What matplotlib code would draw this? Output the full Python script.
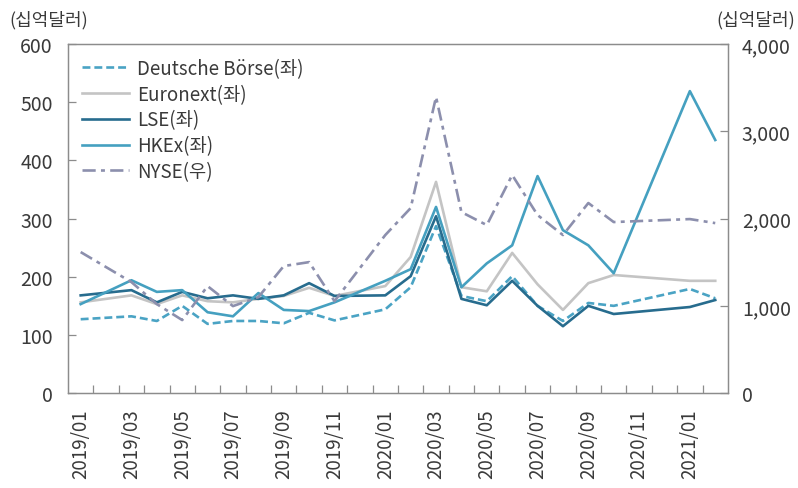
import numpy as np
import pandas as pd
import matplotlib
matplotlib.use("Agg")
import matplotlib.pyplot as plt
from matplotlib.ticker import FuncFormatter

plt.rcParams['font.family'] = ['Noto Sans CJK KR', 'DejaVu Sans']
plt.rcParams['font.weight'] = 'light'
plt.rcParams['axes.unicode_minus'] = False

# monthly categories 2019/01 ~ 2021/02, blank months are None
months = [p.strftime('%Y/%m') for p in pd.period_range('2019-01', '2021-02', freq='M')]

deutsche = [127, None, 132, 124, 150, 119, 124, 124, 120, 138, 125, None,
            144, 182, 287, 167, 158, 201, 150, 124, 155, 150, None, None, 179, 163]
euronext = [156, None, 168, 153, 168, 158, 156, 162, 167, 181, 167, None,
            184, 234, 363, 182, 175, 241, 187, 143, 189, 203, None, None, 193, 193]
lse = [168, None, 177, 156, 174, 163, 168, 162, 168, 189, 167, None,
       168, 201, 304, 162, 151, 193, 150, 115, 150, 136, None, None, 148, 160]
hkex = [153, None, 194, 174, 177, 139, 132, 172, 143, 141, 156, None,
        193, 213, 320, 182, 223, 254, 373, 280, 254, 206, None, None, 519, 435]
nyse = [1616, None, 1272, 1020, 837, 1226, 997, 1100, 1456, 1501, 1054, None,
        1811, 2120, 3393, 2074, 1925, 2499, 2040, 1811, 2178, 1960, None, None, 1994, 1948]

left_series = [
    ('Deutsche Börse(좌)', deutsche, '#4aa3c4', (0, (3, 1.5))),
    ('Euronext(좌)', euronext, '#c4c4c4', '-'),
    ('LSE(좌)', lse, '#276c8e', '-'),
    ('HKEx(좌)', hkex, '#45a0c0', '-'),
]

text_color = '#3a3a3a'
spine_color = '#8c8c8c'

fig = plt.figure(figsize=(7.98, 4.89), dpi=100)
ax = fig.add_axes([0.0852, 0.194, 0.827, 0.714])
ax2 = ax.twinx()

x = np.arange(len(months))
handles = []
for name, vals, col, ls in left_series:
    y = np.array([np.nan if v is None else v for v in vals], dtype=float)
    m = ~np.isnan(y)
    h, = ax.plot(x[m], y[m], color=col, lw=1.9, ls=ls, label=name)
    handles.append(h)

y = np.array([np.nan if v is None else v for v in nyse], dtype=float)
m = ~np.isnan(y)
h, = ax2.plot(x[m], y[m], color='#8c8fad', lw=1.9, ls=(0, (5, 2, 1.5, 2)), label='NYSE(우)')
handles.append(h)

ax.set_xlim(-0.5, len(months) - 0.5)
ax.set_ylim(0, 600)
ax2.set_ylim(0, 4000)
ax.set_yticks(range(0, 601, 100))
ax2.set_yticks(range(0, 4001, 1000))
ax2.yaxis.set_major_formatter(FuncFormatter(lambda v, p: f'{int(v):,}'))

ax.set_xticks(x[::2])
ax.set_xticklabels(months[::2], rotation=90)
ax.set_xticks(np.arange(0.5, len(months) - 1, 1), minor=True)
ax.tick_params(axis='x', which='major', length=0, pad=11, labelsize=13.5, labelcolor=text_color)
ax.tick_params(axis='x', which='minor', direction='in', length=6, color=spine_color, width=0.9)
ax.tick_params(axis='y', direction='in', length=6, color=spine_color, width=0.9, pad=11,
               labelsize=14, labelcolor=text_color)
ax2.tick_params(axis='y', direction='in', length=6, color=spine_color, width=0.9, pad=10,
                labelsize=14, labelcolor=text_color)

for a in (ax, ax2):
    for s in a.spines.values():
        s.set_color(spine_color)
        s.set_linewidth(0.9)

fig.text(0.012, 0.958, '(십억달러)', fontsize=13, color=text_color, va='center', ha='left')
fig.text(0.997, 0.958, '(십억달러)', fontsize=13, color=text_color, va='center', ha='right')

ax2.legend(handles=handles, loc='upper left', bbox_to_anchor=(0.0, 1.0), frameon=False,
           fontsize=13.5, handlelength=2.5, handletextpad=0.45, labelspacing=0.25,
           borderaxespad=0.35, labelcolor=text_color)

fig.savefig('out.png', dpi=100)
